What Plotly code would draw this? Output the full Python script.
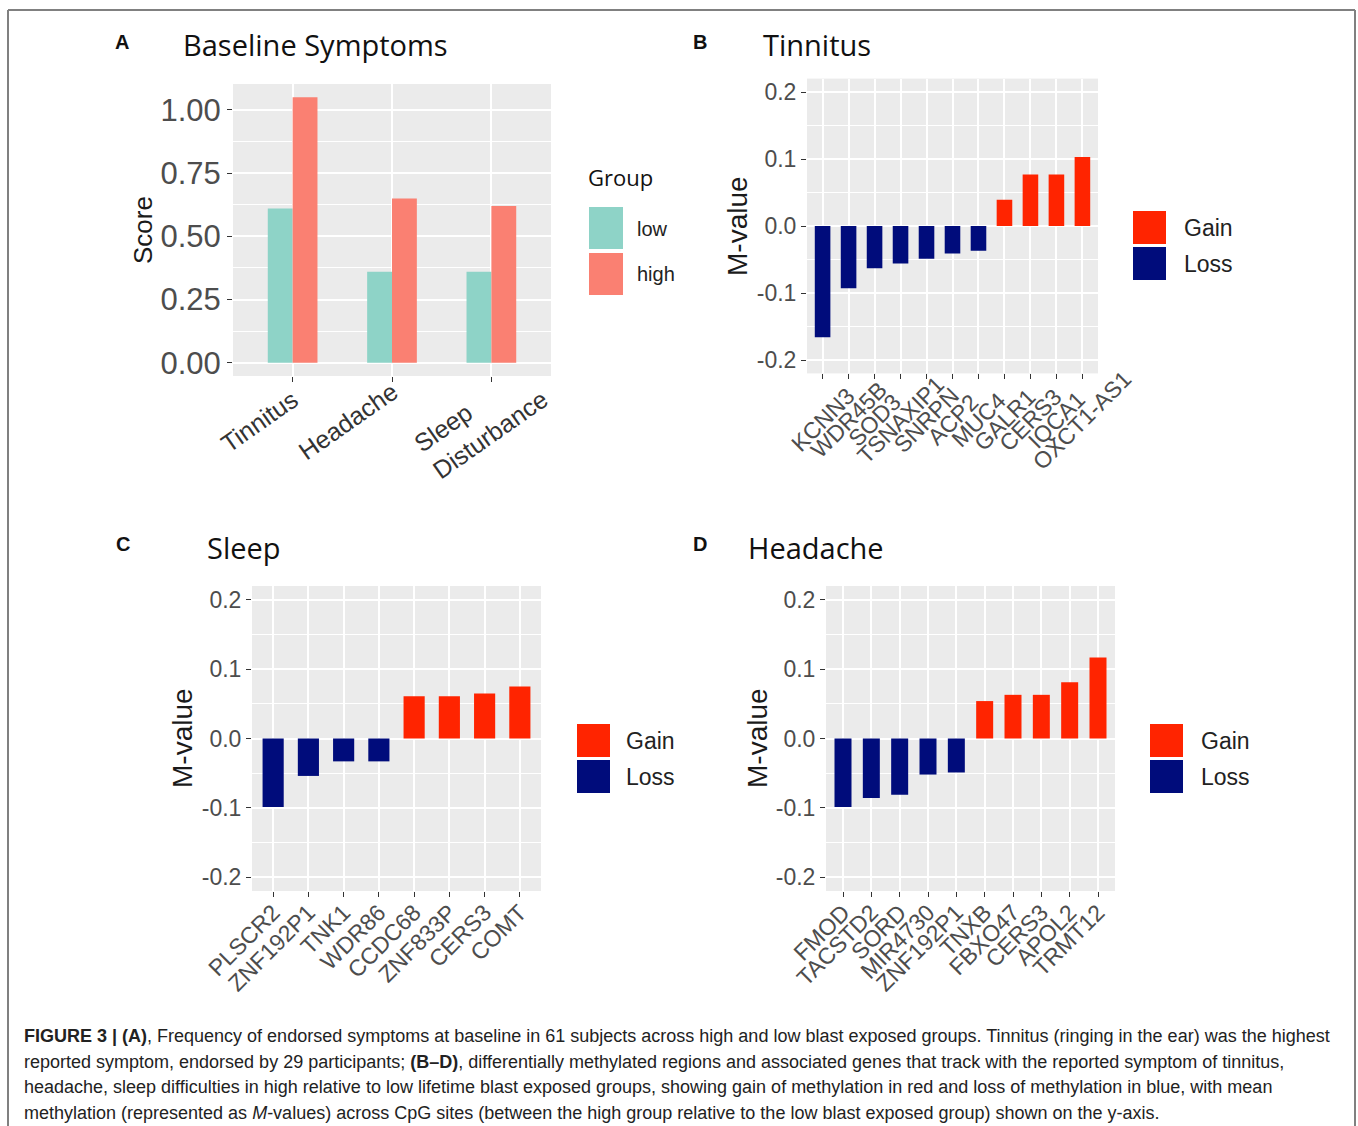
import plotly.graph_objects as go

# ---------------- data ----------------
symptoms = ["Tinnitus", "Headache", "Sleep<br>Disturbance"]
score_low = [0.61, 0.36, 0.36]
score_high = [1.05, 0.65, 0.62]
score_ticks = [0.0, 0.25, 0.5, 0.75, 1.0]
score_ticktext = ["0.00", "0.25", "0.50", "0.75", "1.00"]

tinnitus_genes = ["KCNN3", "WDR45B", "SOD3", "TSNAXIP1", "SNRPN", "ACP2", "MUC4",
                  "GALR1", "CERS3", "IQCA1", "OXCT1-AS1"]
tinnitus_m = [-0.166, -0.093, -0.063, -0.056, -0.049, -0.041, -0.037,
              0.039, 0.077, 0.077, 0.103]

sleep_genes = ["PLSCR2", "ZNF192P1", "TNK1", "WDR86", "CCDC68", "ZNF833P", "CERS3", "COMT"]
sleep_m = [-0.099, -0.054, -0.033, -0.033, 0.061, 0.061, 0.065, 0.075]

headache_genes = ["FMOD", "TACSTD2", "SORD", "MIR4730", "ZNF192P1", "TNXB", "FBXO47",
                  "CERS3", "APOL2", "TRMT12"]
headache_m = [-0.099, -0.086, -0.081, -0.052, -0.049, 0.054, 0.063, 0.063, 0.081, 0.117]

m_ticks = [-0.2, -0.1, 0.0, 0.1, 0.2]
m_ticktext = ["-0.2", "-0.1", "0.0", "0.1", "0.2"]

caption_lines = [
    "<b>FIGURE 3 | (A)</b>, Frequency of endorsed symptoms at baseline in 61 subjects across high and low blast exposed groups. Tinnitus (ringing in the ear) was the highest",
    "reported symptom, endorsed by 29 participants; <b>(B–D)</b>, differentially methylated regions and associated genes that track with the reported symptom of tinnitus,",
    "headache, sleep difficulties in high relative to low lifetime blast exposed groups, showing gain of methylation in red and loss of methylation in blue, with mean",
    "methylation (represented as <i>M</i>-values) across CpG sites (between the high group relative to the low blast exposed group) shown on the y-axis.",
]

# ---------------- style ----------------
W, H = 1358, 1126
TEAL = "#8ed3c7"
SALMON = "#fa8072"
RED = "#ff2400"
BLUE = "#000c7b"
BG = "#ebebeb"
TICKCOL = "#4d4d4d"
SANS = "Liberation Sans, Arial"
TITLEF = "Open Sans, Noto Sans"
# label-centre offsets (px) of the rotated symptom labels in panel A
SYMPTOM_LABEL_DX = [-33, -44, -11]


def px(x):
    return x / W


def py(y):
    return 1 - y / H


fig = go.Figure()

# Panel A
fig.add_trace(go.Bar(x=symptoms, y=score_low, width=0.25, offset=-0.25,
                     marker=dict(color=TEAL, line=dict(width=0)), xaxis="x", yaxis="y"))
fig.add_trace(go.Bar(x=symptoms, y=score_high, width=0.25, offset=0.0,
                     marker=dict(color=SALMON, line=dict(width=0)), xaxis="x", yaxis="y"))


def colors(vals):
    return [RED if v > 0 else BLUE for v in vals]


fig.add_trace(go.Bar(x=tinnitus_genes, y=tinnitus_m, width=0.6,
                     marker=dict(color=colors(tinnitus_m), line=dict(width=0)),
                     xaxis="x2", yaxis="y2"))
fig.add_trace(go.Bar(x=sleep_genes, y=sleep_m, width=0.6,
                     marker=dict(color=colors(sleep_m), line=dict(width=0)),
                     xaxis="x3", yaxis="y3"))
fig.add_trace(go.Bar(x=headache_genes, y=headache_m, width=0.6,
                     marker=dict(color=colors(headache_m), line=dict(width=0)),
                     xaxis="x4", yaxis="y4"))


def xax(x0, x1, y_anchor, cats, fsize, angle, show=True):
    return dict(domain=[px(x0), px(x1)], anchor=y_anchor, type="category",
                categoryorder="array", categoryarray=cats,
                tickmode="array", tickvals=cats, ticktext=cats,
                range=[-0.6, len(cats) - 0.4], showgrid=True, gridcolor="white", gridwidth=1.6,
                ticks="outside", ticklen=5, tickwidth=1.3, tickcolor="#333333",
                showline=False, zeroline=False, showticklabels=show, automargin=False,
                tickangle=angle, tickfont=dict(family=SANS, size=fsize, color=TICKCOL),
                ticklabelstandoff=-7, fixedrange=True)


def yax(y0, y1, x_anchor, rng, tv, tt, minor0, minordt, font):
    return dict(domain=[py(y1), py(y0)], anchor=x_anchor, range=rng,
                tickmode="array", tickvals=tv, ticktext=tt,
                showgrid=True, gridcolor="white", gridwidth=1.6,
                minor=dict(tickmode="linear", tick0=minor0, dtick=minordt, showgrid=True,
                           gridcolor="white", gridwidth=0.8, ticks=""),
                ticks="outside", ticklen=5, tickwidth=1.3, tickcolor="#333333",
                showline=False, zeroline=False, tickfont=font, fixedrange=True,
                automargin=False)


fig.update_layout(
    template="none",
    width=W, height=H, margin=dict(l=0, r=0, t=0, b=0, autoexpand=False),
    paper_bgcolor="white", plot_bgcolor=BG, showlegend=False, barmode="overlay",
    xaxis=xax(233, 551, "y", symptoms, 25, -35, show=False),
    yaxis=yax(84, 376, "x", [-0.0525, 1.1025], score_ticks, score_ticktext, 0.125, 0.25,
              dict(family=SANS, size=31, color=TICKCOL)),
    xaxis2=xax(807, 1098, "y2", tinnitus_genes, 23, -45, show=False),
    yaxis2=yax(78.6, 373.4, "x2", [-0.22, 0.22], m_ticks, m_ticktext, 0.05, 0.1,
               dict(family=SANS, size=23, color=TICKCOL)),
    xaxis3=xax(252, 541, "y3", sleep_genes, 23, -45),
    yaxis3=yax(586, 891, "x3", [-0.22, 0.22], m_ticks, m_ticktext, 0.05, 0.1,
               dict(family=SANS, size=23, color=TICKCOL)),
    xaxis4=xax(826, 1115, "y4", headache_genes, 23, -45),
    yaxis4=yax(586, 891, "x4", [-0.22, 0.22], m_ticks, m_ticktext, 0.05, 0.1,
               dict(family=SANS, size=23, color=TICKCOL)),
)

ann = []


def text(x, y, s, size, family=SANS, color="#111111", xanchor="left", angle=0, yanchor="middle"):
    ann.append(dict(x=px(x), y=py(y), xref="paper", yref="paper", text=s, showarrow=False,
                    xanchor=xanchor, yanchor=yanchor, textangle=angle,
                    font=dict(family=family, size=size, color=color)))


# Panel letters and titles
text(113, 42, "<b>A</b>", 20)
text(691, 42, "<b>B</b>", 20)
text(114, 544, "<b>C</b>", 20)
text(691, 544, "<b>D</b>", 20)
text(181, 45, "Baseline Symptoms", 29, TITLEF, "#111111")
text(761, 45, "Tinnitus", 29, TITLEF, "#111111")
text(205, 547, "Sleep", 29, TITLEF, "#111111")
text(746, 547, "Headache", 29, TITLEF, "#111111")

# Axis titles
text(143, 230, "Score", 26, SANS, "#1a1a1a", "center", -90)
text(738, 226, "M-value", 28, SANS, "#1a1a1a", "center", -90)
text(182, 738, "M-value", 28, SANS, "#1a1a1a", "center", -90)
text(757, 738, "M-value", 28, SANS, "#1a1a1a", "center", -90)

# Panel A symptom labels (rotated, lines left aligned as in the original)
for s, dx in zip(symptoms, SYMPTOM_LABEL_DX):
    ann.append(dict(x=s, xref="x", y=py(421), yref="paper", text=s, showarrow=False,
                    xanchor="center", yanchor="middle", textangle=-35, xshift=dx,
                    align="left", font=dict(family=SANS, size=25, color="#333333")))

# Panel B gene labels (centred on ticks, as in the original)
for g in tinnitus_genes:
    ann.append(dict(x=g, xref="x2", y=py(420), yref="paper", text=g, showarrow=False,
                    xanchor="center", yanchor="middle", textangle=-45,
                    font=dict(family=SANS, size=23, color=TICKCOL)))

# Legends
shapes = []


def key(x0, y0, x1, y1, col):
    shapes.append(dict(type="rect", xref="paper", yref="paper", x0=px(x0), x1=px(x1),
                       y0=py(y1), y1=py(y0), fillcolor=col, line=dict(width=0), layer="above"))


text(586, 177, "Group", 22, TITLEF, "#111111")
key(589, 207, 623, 249, TEAL)
key(589, 253, 623, 295, SALMON)
text(635, 229, "low", 20, SANS, "#222222")
text(635, 274, "high", 20, SANS, "#222222")

for (kx, ky, lx) in [(1133, 211, 1182), (577, 724, 624), (1150, 724, 1199)]:
    key(kx, ky, kx + 33, ky + 33, RED)
    key(kx, ky + 36, kx + 33, ky + 69, BLUE)
    text(lx, ky + 17, "Gain", 23, SANS, "#222222")
    text(lx, ky + 53, "Loss", 23, SANS, "#222222")

# Caption
for i, line in enumerate(caption_lines):
    text(22, 1036 + i * 25.5, line, 18, SANS, "#222222")

# Frame
for (x0, y0, x1, y1) in [(8, 10, 1355, 10), (8, 10, 8, 1126), (1355, 10, 1355, 1126)]:
    shapes.append(dict(type="line", xref="paper", yref="paper", x0=px(x0), x1=px(x1),
                       y0=py(y0), y1=py(y1), line=dict(color="#808080", width=2)))

fig.update_layout(annotations=ann, shapes=shapes)
fig.write_html("out.html")
